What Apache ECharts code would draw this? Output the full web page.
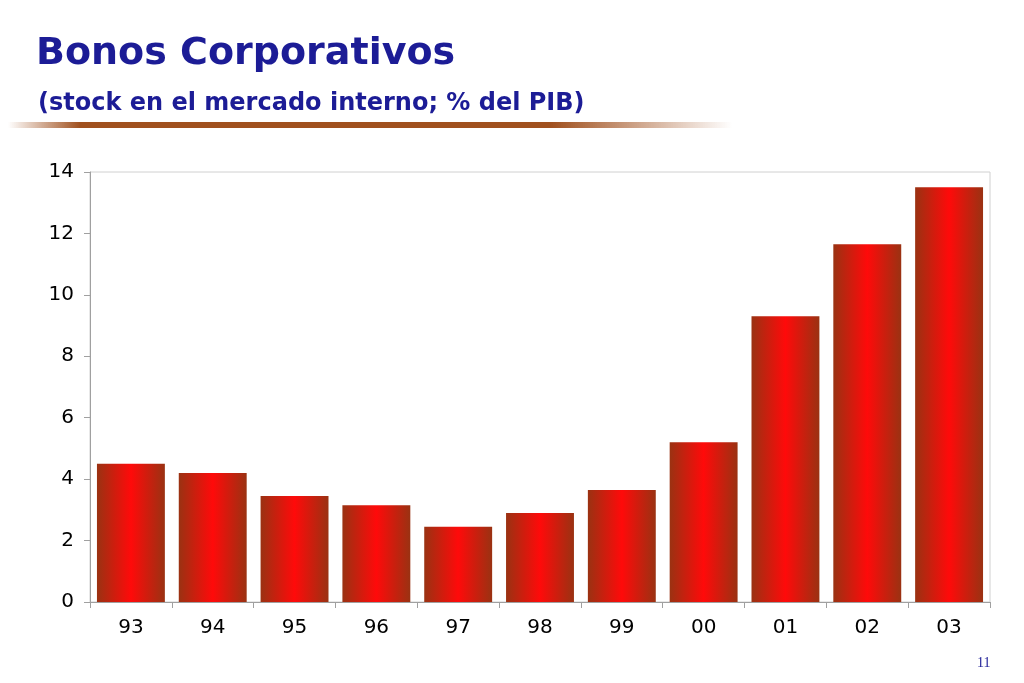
<!DOCTYPE html>
<html><head><meta charset="utf-8">
<script src="https://cdn.jsdelivr.net/npm/echarts@6/dist/echarts.min.js"></script>
<style>html,body{margin:0;padding:0;background:#fff}#c{width:1024px;height:683px}</style>
</head><body><div id="c"></div>
<script>
const categories = ['93','94','95','96','97','98','99','00','01','02','03'];
const values = [4.5, 4.2, 3.45, 3.15, 2.45, 2.9, 3.65, 5.2, 9.3, 11.65, 13.5];
const yTicks = {min: 0, max: 14, interval: 2};
const titleText = 'Bonos Corporativos';
const subtitleText = '(stock en el mercado interno; % del PIB)';

const chart = echarts.init(document.getElementById('c'));
const barGrad = new echarts.graphic.LinearGradient(0,0,1,0,[
  {offset:0,color:'#9a3212'},{offset:0.5,color:'#ff0a0a'},{offset:1,color:'#9a3212'}]);
chart.setOption({
  animation:false,
  grid:{left:90,right:34,top:172,bottom:81,show:true,borderColor:'#d0d0d0',borderWidth:1},
  title:[
    {text:titleText,left:31,top:30,textStyle:{fontFamily:'DejaVu Sans',fontWeight:'bold',fontSize:38,color:'#1c1c96'}},
    {text:subtitleText,left:33,top:87,textStyle:{fontFamily:'DejaVu Sans',fontWeight:'bold',fontSize:24,color:'#1c1c96'}},
    {text:'11',left:972,top:651,textStyle:{fontFamily:'Liberation Serif',fontWeight:'normal',fontSize:14,color:'#1c1c96'}}
  ],
  graphic:[{type:'rect',shape:{x:8,y:122,width:724,height:6},style:{fill:new echarts.graphic.LinearGradient(0,0,1,0,[
    {offset:0,color:'rgba(160,80,30,0)'},{offset:0.1,color:'#a0501e'},{offset:0.75,color:'#a0501e'},{offset:1,color:'rgba(160,80,30,0)'}])}}],
  xAxis:{type:'category',data:categories,
    axisLine:{lineStyle:{color:'#a0a0a0'}},
    axisTick:{show:true,length:6,lineStyle:{color:'#a0a0a0'}},
    axisLabel:{fontFamily:'DejaVu Sans',fontSize:20,color:'#000',margin:16}},
  yAxis:{type:'value',min:yTicks.min,max:yTicks.max,interval:yTicks.interval,
    axisLine:{show:true,lineStyle:{color:'#a0a0a0'}},
    axisTick:{show:true,length:6,lineStyle:{color:'#a0a0a0'}},
    splitLine:{show:false},
    axisLabel:{fontFamily:'DejaVu Sans',fontSize:20,color:'#000',margin:16}},
  series:[{type:'bar',data:values,barCategoryGap:'17%',itemStyle:{color:barGrad}}]
});
</script></body></html>
